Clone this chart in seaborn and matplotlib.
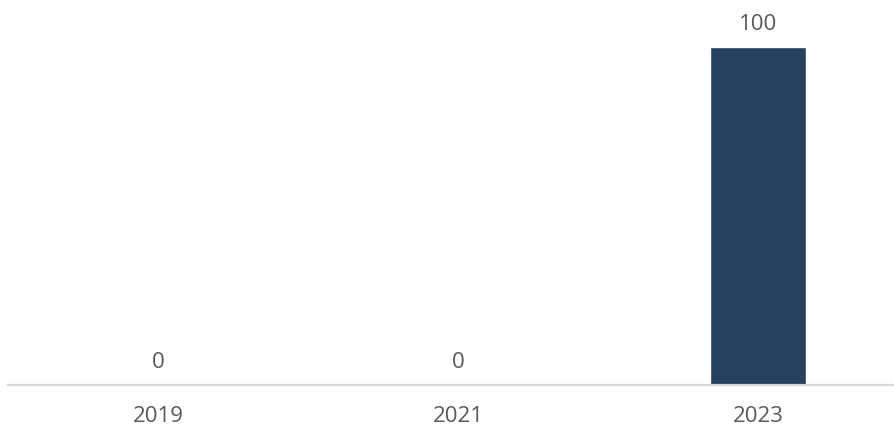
import matplotlib
matplotlib.use("Agg")
import matplotlib.pyplot as plt
import seaborn as sns
import pandas as pd

years = ["2019", "2021", "2023"]
values = [0, 0, 100]

sns.set_theme(style="white")
plt.rcParams["font.family"] = ["Open Sans", "DejaVu Sans"]

DPI = 100
W, H = 894, 429
fig = plt.figure(figsize=(W / DPI, H / DPI), dpi=DPI)
ax = fig.add_axes([8 / W, 44 / H, 900 / W, 338 / H])

df = pd.DataFrame({"year": years, "value": values})
sns.barplot(data=df, x="year", y="value", color="#26405F", width=0.317,
            saturation=1, ax=ax)

ax.set_xlim(-0.5, 2.5)
ax.set_ylim(0, 100)
ax.set_xlabel("")
ax.set_ylabel("")
ax.set_yticks([])

for s in ["top", "right", "left"]:
    ax.spines[s].set_visible(False)
ax.spines["bottom"].set_color("#d9d9d9")
ax.spines["bottom"].set_linewidth(1.6)

ax.tick_params(axis="x", length=0, pad=15, labelsize=16, labelcolor="#595959")

for i, v in enumerate(values):
    ax.annotate(f"{v}", (i, v), xytext=(0, 16), textcoords="offset points",
                ha="center", va="center", fontsize=16, color="#595959")

fig.savefig("out.png", dpi=DPI)
